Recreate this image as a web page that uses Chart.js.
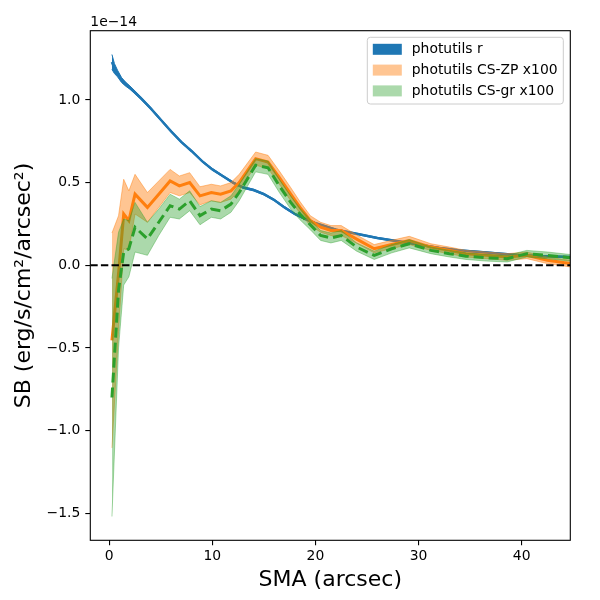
<!DOCTYPE html>
<html>
<head>
<meta charset="utf-8">
<script src="https://cdn.jsdelivr.net/npm/chart.js@4.4.1/dist/chart.umd.min.js"></script>
<style>
  html, body { margin: 0; padding: 0; background: #fff; }
  #wrap { width: 600px; height: 600px; }
</style>
</head>
<body>
<div id="wrap"><canvas id="myChart" width="600" height="600"></canvas></div>
<script>
'use strict';
// DATA  (SB in units of 1e-14 erg/s/cm2/arcsec2)

// photutils r
var smaR   = [0.26, 0.5, 0.8, 1.2, 1.6, 2.0, 2.5, 3.0, 4.0, 5.0, 6.0, 7.0, 8.0, 9.0, 10.0, 11.0, 12.0, 13.0, 14.0, 15.0,
              16.0, 17.0, 18.0, 19.0, 20.0, 21.0, 22.0, 24.0, 26.0, 28.0, 30.0, 32.0, 34.0, 36.0, 38.0, 40.0, 42.0, 44.7];
var sbR    = [1.23, 1.19, 1.16, 1.12, 1.095, 1.075, 1.045, 1.015, 0.95, 0.88, 0.81, 0.745, 0.69, 0.63, 0.58, 0.54, 0.50, 0.47, 0.455, 0.43,
              0.395, 0.35, 0.31, 0.28, 0.255, 0.235, 0.215, 0.19, 0.165, 0.145, 0.125, 0.105, 0.09, 0.08, 0.07, 0.06, 0.055, 0.05];
var sbRErr = [0.045, 0.03, 0.02, 0.015, 0.012, 0.01, 0.008, 0.007, 0.006, 0.006, 0.005, 0.005, 0.005, 0.005, 0.005, 0.005, 0.005, 0.005, 0.005, 0.005,
              0.005, 0.005, 0.005, 0.005, 0.004, 0.004, 0.004, 0.004, 0.004, 0.004, 0.004, 0.004, 0.004, 0.004, 0.004, 0.004, 0.004, 0.004];

// CS profiles (x100)
var smaCS   = [0.26, 0.9, 1.4, 1.9, 2.5, 3.7, 4.8, 5.9, 6.8, 7.8, 8.8, 9.9, 10.8, 11.8, 12.6, 14.2, 15.4, 16.5,
               17.6, 18.5, 19.5, 20.5, 21.5, 22.5, 24.0, 25.7, 27.4, 29.1, 31.2, 33.0, 34.6, 36.6, 38.6, 40.5, 42.5, 44.7];
var sbZP    = [-0.455, -0.05, 0.31, 0.27, 0.43, 0.35, 0.43, 0.51, 0.48, 0.50, 0.42, 0.44, 0.43, 0.45, 0.50, 0.645, 0.625, 0.53,
               0.43, 0.35, 0.27, 0.23, 0.21, 0.21, 0.158, 0.10, 0.126, 0.15, 0.11, 0.09, 0.07, 0.06, 0.05, 0.06, 0.03, 0.01];
var sbZPErr = [0.65, 0.35, 0.21, 0.18, 0.12, 0.09, 0.08, 0.07, 0.06, 0.06, 0.055, 0.05, 0.05, 0.05, 0.05, 0.04, 0.04, 0.04,
               0.04, 0.035, 0.03, 0.03, 0.03, 0.03, 0.025, 0.025, 0.025, 0.025, 0.02, 0.02, 0.02, 0.02, 0.02, 0.02, 0.02, 0.02];
var sbGR    = [-0.80, -0.15, 0.08, 0.10, 0.23, 0.16, 0.26, 0.36, 0.34, 0.39, 0.30, 0.34, 0.33, 0.37, 0.44, 0.605, 0.59, 0.48,
               0.38, 0.31, 0.245, 0.18, 0.165, 0.18, 0.11, 0.06, 0.10, 0.13, 0.09, 0.07, 0.055, 0.045, 0.04, 0.07, 0.06, 0.045];
var sbGRErr = [0.72, 0.35, 0.2, 0.17, 0.15, 0.1, 0.08, 0.07, 0.06, 0.06, 0.055, 0.05, 0.05, 0.05, 0.05, 0.04, 0.04, 0.04,
               0.04, 0.035, 0.03, 0.03, 0.03, 0.03, 0.025, 0.025, 0.025, 0.025, 0.02, 0.02, 0.02, 0.02, 0.02, 0.02, 0.02, 0.02];

// AXES
var xTicks = [0, 10, 20, 30, 40];
var yTicks = [-1.5, -1.0, -0.5, 0.0, 0.5, 1.0];
var xMin = -1.84, xMax = 44.72;
var yMin = -1.664, yMax = 1.419;

var legendLabels = ['photutils r', 'photutils CS-ZP x100', 'photutils CS-gr x100'];

// COLORS (matplotlib tab10)
var cBlue = '#1f77b4', cOrange = '#ff7f0e', cGreen = '#2ca02c';
var fBlue = 'rgba(31,119,180,1)', fOrange = 'rgba(255,127,14,0.45)', fGreen = 'rgba(44,160,44,0.4)';

var FONT = '"DejaVu Sans", "Liberation Sans", sans-serif';

function pts(xs, ys, errs, sign) {
  return xs.map(function(x, i) {
    return { x: x, y: ys[i] + (errs ? sign * errs[i] : 0) };
  });
}

function lineDs(data, color, width, order, dash) {
  return {
    data: data, borderColor: color, borderWidth: width, borderDash: dash || [],
    pointRadius: 0, fill: false, tension: 0, order: order
  };
}
function edgeDs(data, color, order, fillTo, bg) {
  return {
    data: data, borderColor: color, borderWidth: 1, pointRadius: 0, tension: 0,
    fill: fillTo === undefined ? false : fillTo, backgroundColor: bg || 'transparent', order: order
  };
}

var datasets = [
  // 0 zero line
  lineDs([{ x: xMin, y: 0 }, { x: xMax, y: 0 }], '#000', 2, 0, [7.4, 3.2]),
  // 1-3 green
  lineDs(pts(smaCS, sbGR), cGreen, 3, 1, [10, 5]),
  edgeDs(pts(smaCS, sbGR, sbGRErr, -1), fGreen, 2),
  edgeDs(pts(smaCS, sbGR, sbGRErr, 1), fGreen, 2, 2, fGreen),
  // 4-6 orange
  lineDs(pts(smaCS, sbZP), cOrange, 3, 3),
  edgeDs(pts(smaCS, sbZP, sbZPErr, -1), fOrange, 4),
  edgeDs(pts(smaCS, sbZP, sbZPErr, 1), fOrange, 4, 5, fOrange),
  // 7-9 blue
  lineDs(pts(smaR, sbR), cBlue, 2.5, 5),
  edgeDs(pts(smaR, sbR, sbRErr, -1), fBlue, 6),
  edgeDs(pts(smaR, sbR, sbRErr, 1), fBlue, 6, 8, fBlue)
];

// frame, offset text and legend
var extras = {
  id: 'extras',
  afterDraw: function(chart) {
    var ctx = chart.ctx, a = chart.chartArea;
    ctx.save();
    // spines
    ctx.strokeStyle = '#000';
    ctx.lineWidth = 1.1;
    ctx.strokeRect(a.left, a.top, a.right - a.left, a.bottom - a.top);
    // offset text
    ctx.fillStyle = '#000';
    ctx.font = '13.9px ' + FONT;
    ctx.textAlign = 'left';
    ctx.textBaseline = 'alphabetic';
    ctx.fillText('1e\u221214', a.left, a.top - 4.5);
    // legend
    var bx = a.right - 7 - 196, by = a.top + 6.6, bw = 196, bh = 66.7;
    ctx.beginPath();
    ctx.roundRect(bx, by, bw, bh, 3);
    ctx.fillStyle = 'rgba(255,255,255,0.8)';
    ctx.fill();
    ctx.strokeStyle = '#cccccc';
    ctx.lineWidth = 1;
    ctx.stroke();
    var fills = [fBlue, fOrange, fGreen];
    for (var i = 0; i < legendLabels.length; i++) {
      var cy = by + 12 + i * 20.8;
      ctx.fillStyle = fills[i];
      ctx.fillRect(bx + 5.5, cy - 5.5, 29, 11);
      ctx.fillStyle = '#000';
      ctx.textBaseline = 'middle';
      ctx.fillText(legendLabels[i], bx + 44.5, cy);
    }
    ctx.restore();
  }
};

function fmt(v) {
  var s = Math.abs(v).toFixed(1);
  return v < 0 ? '\u2212' + s : s;
}

var ctx = document.getElementById('myChart').getContext('2d');

var chart = new Chart(ctx, {
  type: 'line',
  data: { datasets: datasets },
  options: {
    responsive: false,
    animation: false,
    devicePixelRatio: 1,
    layout: { padding: { left: 0, top: 30.7, right: 29.7, bottom: 0 } },
    plugins: {
      legend: { display: false },
      tooltip: { enabled: false },
      filler: { propagate: false }
    },
    scales: {
      x: {
        type: 'linear', min: xMin, max: xMax,
        afterBuildTicks: function(s) { s.ticks = xTicks.map(function(v) { return { value: v }; }); },
        afterFit: function(s) { s.height = 59.7; },
        grid: { drawOnChartArea: false, drawTicks: true, tickLength: 5, color: '#000', lineWidth: 1.1 },
        border: { display: false },
        ticks: { color: '#000', padding: 3, font: { family: FONT, size: 13.9 }, maxRotation: 0,
                 callback: function(v) { return String(v); } },
        title: { display: true, text: 'SMA (arcsec)', color: '#000',
                 font: { family: FONT, size: 22 }, padding: { top: 0, bottom: 6.7 } }
      },
      y: {
        type: 'linear', min: yMin, max: yMax,
        afterBuildTicks: function(s) { s.ticks = yTicks.map(function(v) { return { value: v }; }); },
        afterFit: function(s) { s.width = 90.3; },
        grid: { drawOnChartArea: false, drawTicks: true, tickLength: 5, color: '#000', lineWidth: 1.1 },
        border: { display: false },
        ticks: { color: '#000', padding: 5, font: { family: FONT, size: 13.9 }, callback: fmt },
        title: { display: true, text: 'SB (erg/s/cm\u00b2/arcsec\u00b2)', color: '#000',
                 font: { family: FONT, size: 22 }, padding: { top: 11, bottom: 0 } }
      }
    }
  },
  plugins: [extras]
});
</script>
</body>
</html>
